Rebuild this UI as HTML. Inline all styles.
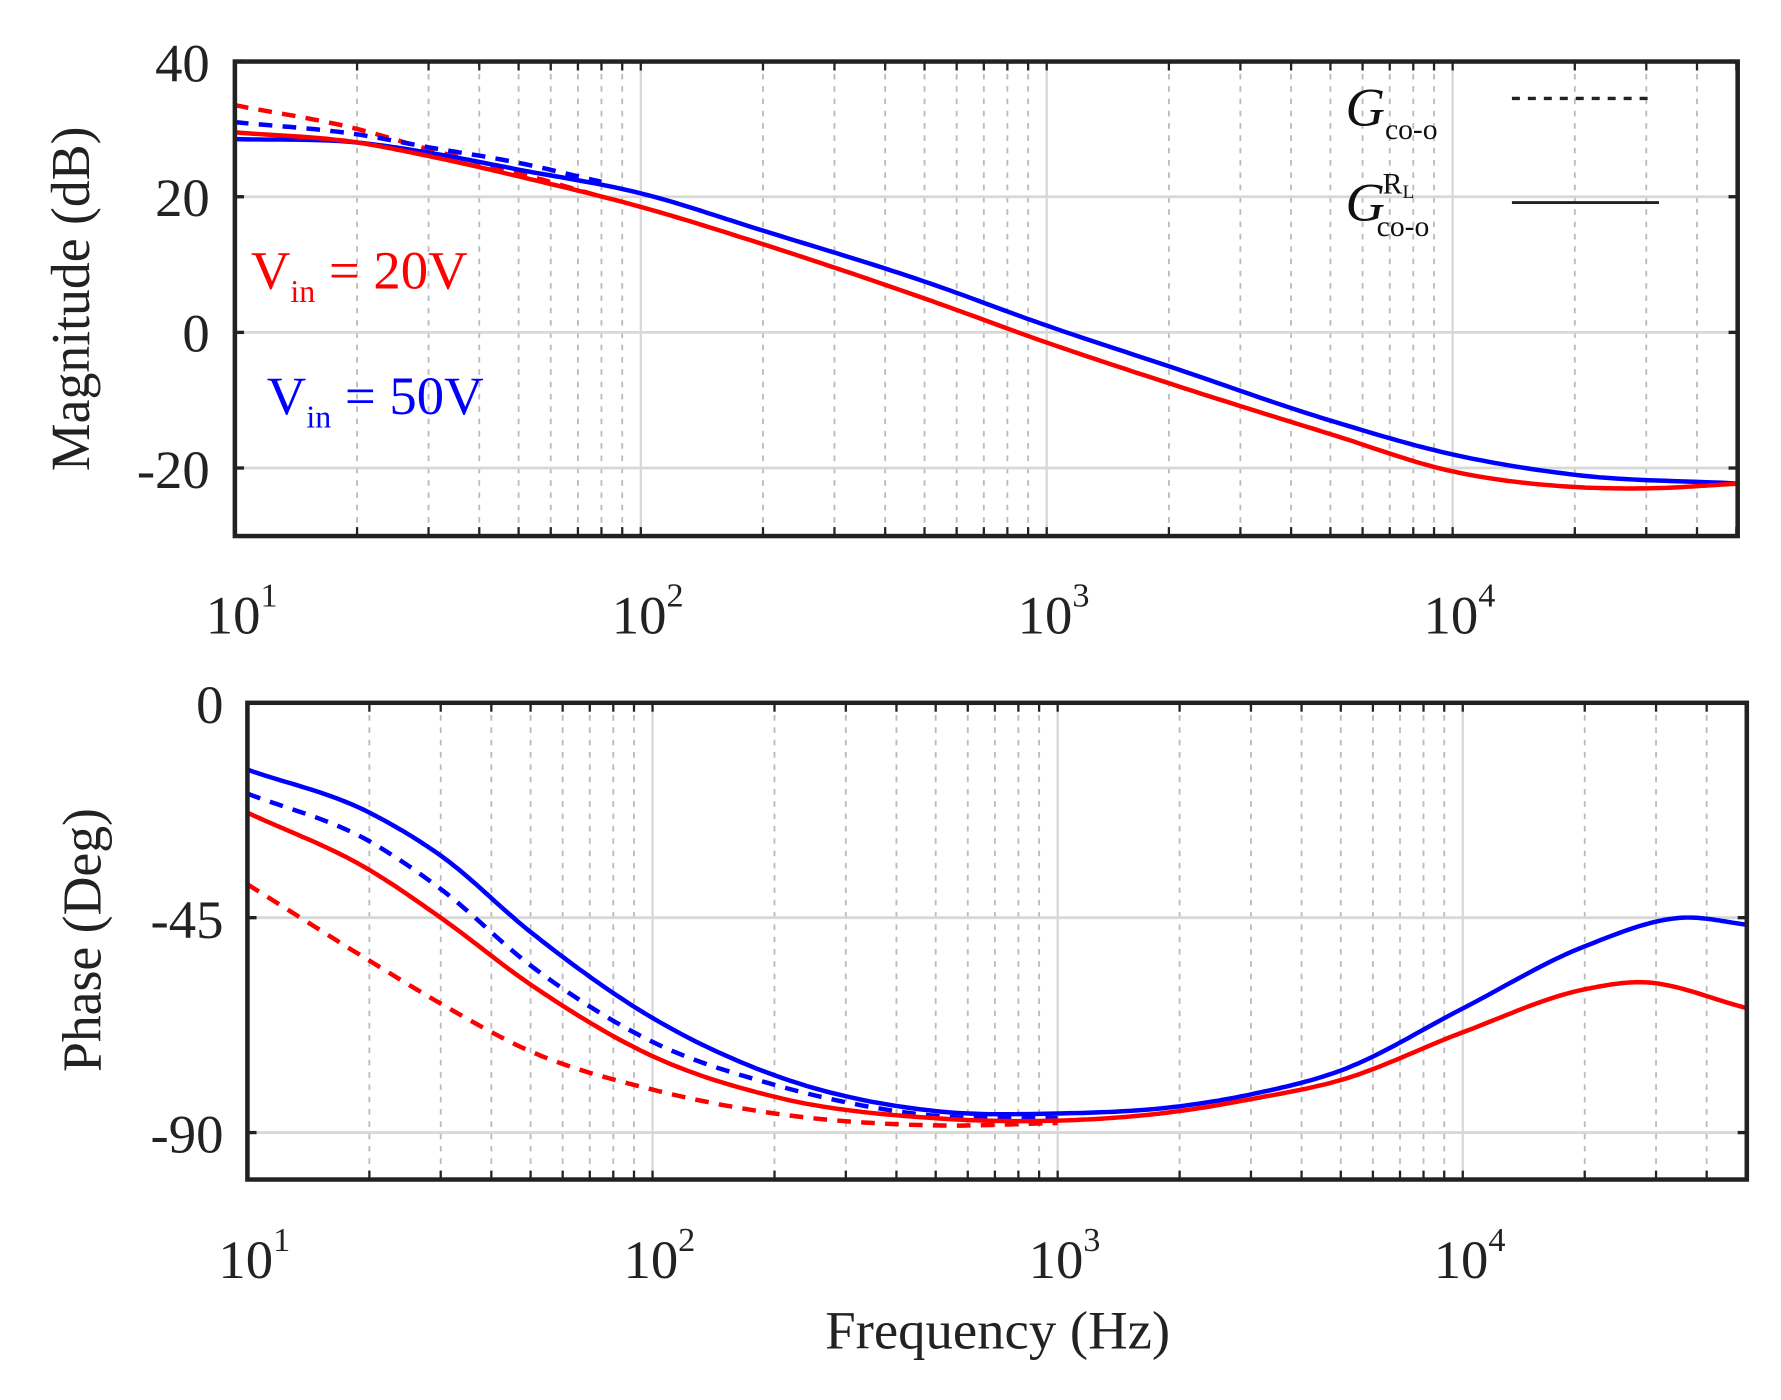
<!DOCTYPE html>
<html><head><meta charset="utf-8">
<style>html,body{margin:0;padding:0;background:#fff;}svg{display:block;}</style>
</head><body>
<svg id="s" width="1781" height="1400" viewBox="0 0 1562 1251" preserveAspectRatio="none" xmlns="http://www.w3.org/2000/svg" font-family="Liberation Serif, serif">
<g id="g"></g>
<g font-size="48" fill="#222">
<text x="184" y="73" text-anchor="end">40</text>
<text x="184" y="193" text-anchor="end">20</text>
<text x="184" y="314" text-anchor="end">0</text>
<text x="184" y="436" text-anchor="end">-20</text>
<text x="196" y="646" text-anchor="end">0</text>
<text x="196" y="838" text-anchor="end">-45</text>
<text x="196" y="1030" text-anchor="end">-90</text>
<text transform="translate(78,267) rotate(-90)" text-anchor="middle">Magnitude (dB)</text>
<text transform="translate(88,840) rotate(-90)" text-anchor="middle">Phase (Deg)</text>
<text x="875" y="1205" text-anchor="middle">Frequency (Hz)</text>
</g>
<g font-size="48" fill="#222" id="xl"></g>
<g font-size="48">
<text x="220" y="258" fill="#f00">V<tspan font-size="28" dy="12">in</tspan><tspan dy="-12"> = 20V</tspan></text>
<text x="234" y="370" fill="#00f">V<tspan font-size="28" dy="12">in</tspan><tspan dy="-12"> = 50V</tspan></text>
<text x="1180" y="112" font-style="italic" fill="#111">G<tspan font-style="normal" font-size="26" dy="12">co-o</tspan></text>
<text x="1180" y="197" font-style="italic" fill="#111">G<tspan font-style="normal" font-size="26" dx="-2" dy="-24">R</tspan><tspan font-style="normal" font-size="17" dy="4">L</tspan><tspan font-style="normal" font-size="26" dx="-33" dy="34">co-o</tspan></text>
</g>
<line x1="1326" y1="88" x2="1446" y2="88" stroke="#222" stroke-width="3" stroke-dasharray="7,7"/>
<line x1="1326" y1="181" x2="1455" y2="181" stroke="#222" stroke-width="2.5"/>
</svg>
<script>
var NS="http://www.w3.org/2000/svg",g=document.getElementById('g'),xl=document.getElementById('xl');
function el(t,a,p){var e=document.createElementNS(NS,t);for(var k in a)e.setAttribute(k,a[k]);(p||g).appendChild(e);return e;}
function axes(L,R,T,B,x10,dec,yt,ymap){
 for(var d=1;d<=4;d++)for(var m=1;m<=9;m++){var f=d+Math.log10(m);var x=x10+(f-1)*dec;if(x>R)continue;
  if(m==1){el('line',{x1:x,y1:T,x2:x,y2:B,stroke:'#d8d8d8','stroke-width':2});}
  else{el('line',{x1:x,y1:T,x2:x,y2:B,stroke:'#bbb','stroke-width':1.6,'stroke-dasharray':'5,6'});}
  el('line',{x1:x,y1:T,x2:x,y2:T+8,stroke:'#222','stroke-width':2});el('line',{x1:x,y1:B,x2:x,y2:B-8,stroke:'#222','stroke-width':2});}
 yt.forEach(function(v){var y=ymap(v);el('line',{x1:L,y1:y,x2:R,y2:y,stroke:'#d8d8d8','stroke-width':2.5});
  el('line',{x1:L,y1:y,x2:L+8,y2:y,stroke:'#222','stroke-width':3});el('line',{x1:R,y1:y,x2:R-8,y2:y,stroke:'#222','stroke-width':3});});
}
function curve(pts,xm,ym,col,dash,sw){
 var u=pts.map(function(p){return Math.log10(p[0]);}),v=pts.map(function(p){return p[1];}),n=u.length,m=[];
 for(var i=0;i<n;i++){
  if(i==0)m[i]=(v[1]-v[0])/(u[1]-u[0]);
  else if(i==n-1)m[i]=(v[n-1]-v[n-2])/(u[n-1]-u[n-2]);
  else{var h0=u[i]-u[i-1],h1=u[i+1]-u[i],s0=(v[i]-v[i-1])/h0,s1=(v[i+1]-v[i])/h1;m[i]=(s0*h1+s1*h0)/(h0+h1);}
 }
 var d='';
 for(var i=0;i<n-1;i++){var h=u[i+1]-u[i];
  for(var k=0;k<=20;k++){if(i>0&&k==0)continue;var t=k/20,t2=t*t,t3=t2*t;
   var y=(2*t3-3*t2+1)*v[i]+(t3-2*t2+t)*h*m[i]+(-2*t3+3*t2)*v[i+1]+(t3-t2)*h*m[i+1];
   var X=xm(u[i]+t*h),Y=ym(y);d+=(d?'L':'M')+X.toFixed(1)+','+Y.toFixed(1);}}
 var a={d:d,fill:'none',stroke:col,'stroke-width':sw||4,'stroke-linejoin':'round'};if(dash)a['stroke-dasharray']=dash;el('path',a);
}
var tm=function(f){return 206+(f-1)*356;},ty=function(v){return 297-v*6.06;};
axes(206,1524,55,479,206,356,[40,20,0,-20],ty);
var end=Math.pow(10,4.705);
curve([[10,33.5],[20,30],[30,27],[50,23.5],[80,20]],tm,ty,'#f00','12,9');
curve([[10,31],[20,29.2],[30,27.3],[50,25],[80,22.2]],tm,ty,'#00f','12,9');
curve([[10,28.5],[20,28],[30,26.5],[50,24],[100,20.5],[200,15],[500,7.5],[1000,1],[2000,-5],[5000,-13],[10000,-18],[20000,-21],[end,-22.3]],tm,ty,'#00f');
curve([[10,29.5],[20,28],[30,26],[50,23],[100,18.5],[200,13],[500,5],[1000,-1.5],[2000,-7.5],[5000,-15],[10000,-20.5],[20000,-22.8],[30000,-23],[end,-22.3]],tm,ty,'#f00');
var bm=function(f){return 217+(f-1)*355.3;},by=function(v){return 628-v*4.267;};
axes(217,1532,628,1054,217,355.3,[0,-45,-90],by);
curve([[10,-19],[20,-29],[30,-39],[50,-55],[100,-71],[200,-80],[500,-86.5],[1000,-87]],bm,by,'#00f','12,9');
curve([[10,-38],[20,-54],[30,-63],[50,-73],[100,-81],[200,-86],[500,-88.5],[1000,-88]],bm,by,'#f00','12,9');
curve([[10,-14],[20,-23],[30,-32],[50,-48],[100,-66],[200,-78],[500,-85.5],[1000,-86],[2000,-84.5],[3000,-82],[5000,-77],[10000,-64],[20000,-51],[35000,-45],[end,-46.5]],bm,by,'#00f');
curve([[10,-23],[20,-35],[30,-45],[50,-59],[100,-74],[200,-82.5],[500,-87],[1000,-87.5],[2000,-85.5],[3000,-83],[5000,-79],[10000,-69],[20000,-60],[27000,-58.5],[end,-64]],bm,by,'#f00');
el('rect',{x:206,y:55,width:1318,height:424,fill:'none',stroke:'#222','stroke-width':4});
el('rect',{x:217,y:628,width:1315,height:426,fill:'none',stroke:'#222','stroke-width':4});
function xlab(x,y,e){var t=el('text',{x:x,y:y,'text-anchor':'middle'},xl);t.textContent='10';var s=el('tspan',{'font-size':30,dy:-24},t);s.textContent=e;}
[1,2,3,4].forEach(function(e,i){xlab(206+i*356+6,566,e);xlab(217+i*355.3+6,1142,e);});
</script>
</body></html>
